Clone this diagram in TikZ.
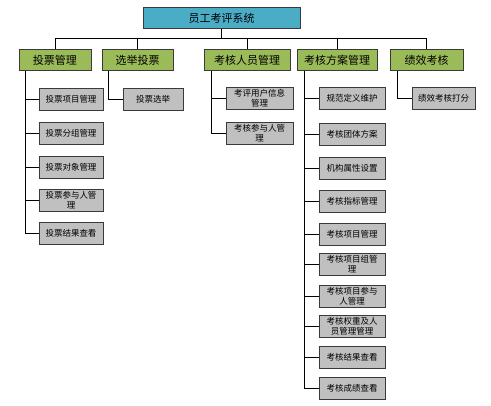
\documentclass[tikz,border=0pt]{standalone}
\usepackage{fontspec}
\newfontfamily\cjk{Noto Sans CJK SC}
\usetikzlibrary{positioning}
\definecolor{RootBlue}{HTML}{4BACC6}
\definecolor{GroupGreen}{HTML}{9BBB59}
\definecolor{LeafGray}{HTML}{C0C0C0}
\definecolor{EdgeGray}{HTML}{3A3A3A}

\tikzset{
  rootbox/.style={draw=EdgeGray,fill=RootBlue,line width=0.9pt,minimum width=157pt,
    minimum height=21pt,inner sep=1pt,font=\cjk\fontsize{11}{12}\selectfont},
  groupbox/.style={draw=EdgeGray,fill=GroupGreen,line width=0.9pt,minimum height=21pt,
    inner sep=1pt,font=\cjk\fontsize{11}{12}\selectfont},
  leafbox/.style={draw=EdgeGray,fill=LeafGray,line width=0.9pt,minimum width=65pt,
    minimum height=22pt,inner sep=1pt,align=center,font=\cjk\fontsize{8.5}{10}\selectfont},
  link/.style={draw=black,line width=0.7pt}
}

\begin{document}
\begin{tikzpicture}[x=1pt,y=-1pt]
  \useasboundingbox (0,0) rectangle (491,406);

  % top of the tree
  \node[rootbox] (root) at (221.5,18) {员工考评系统};

  % second level
  \node[groupbox,minimum width=72pt] (vote)   at (55,60)    {投票管理};
  \node[groupbox,minimum width=71pt] (elect)  at (137.5,60) {选举投票};
  \node[groupbox,minimum width=86pt] (staff)  at (247,60)   {考核人员管理};
  \node[groupbox,minimum width=80pt] (plan)   at (337,60)   {考核方案管理};
  \node[groupbox,minimum width=73pt] (perf)   at (426.5,60) {绩效考核};

  \foreach \g in {vote,elect,staff,plan,perf}
    \draw[link] (root.south) -- ++(0,9.5) -| (\g.north);

  % leaves of 投票管理
  \foreach \n/\y/\t in {v1/99.5/投票项目管理, v2/133.5/投票分组管理,
      v3/167/投票对象管理, v4/200/投票参与人管\\理, v5/233/投票结果查看}{
    \node[leafbox,minimum width=64pt] (\n) at (71,\y) {\t};
    \draw[link] ([xshift=7pt]vote.south west) |- (\n.west);
  }

  % leaf of 选举投票
  \node[leafbox,minimum width=60pt] (e1) at (153,99.5) {投票选举};
  \draw[link] ([xshift=7pt]elect.south west) |- (e1.west);

  % leaves of 考核人员管理
  \foreach \n/\y/\t in {s1/98/考评用户信息\\管理, s2/133.5/考核参与人管\\理}{
    \node[leafbox,minimum width=67pt] (\n) at (259.5,\y) {\t};
    \draw[link] ([xshift=8pt]staff.south west) |- (\n.west);
  }

  % leaves of 考核方案管理
  \foreach \n/\y/\t in {p1/98.5/规范定义维护, p2/134/考核团体方案,
      p3/168/机构属性设置, p4/201.5/考核指标管理, p5/234.5/考核项目管理,
      p6/264.5/考核项目组管\\理, p7/296/考核项目参与\\人管理,
      p8/326.5/考核权重及人\\员管理管理, p9/357.5/考核结果查看,
      p10/388.5/考核成绩查看}{
    \node[leafbox,minimum width=66pt] (\n) at (352,\y) {\t};
    \draw[link] ([xshift=8pt]plan.south west) |- (\n.west);
  }

  % leaf of 绩效考核
  \node[leafbox,minimum width=63pt] (f1) at (443.5,98) {绩效考核打分};
  \draw[link] ([xshift=8pt]perf.south west) |- (f1.west);
\end{tikzpicture}
\end{document}
